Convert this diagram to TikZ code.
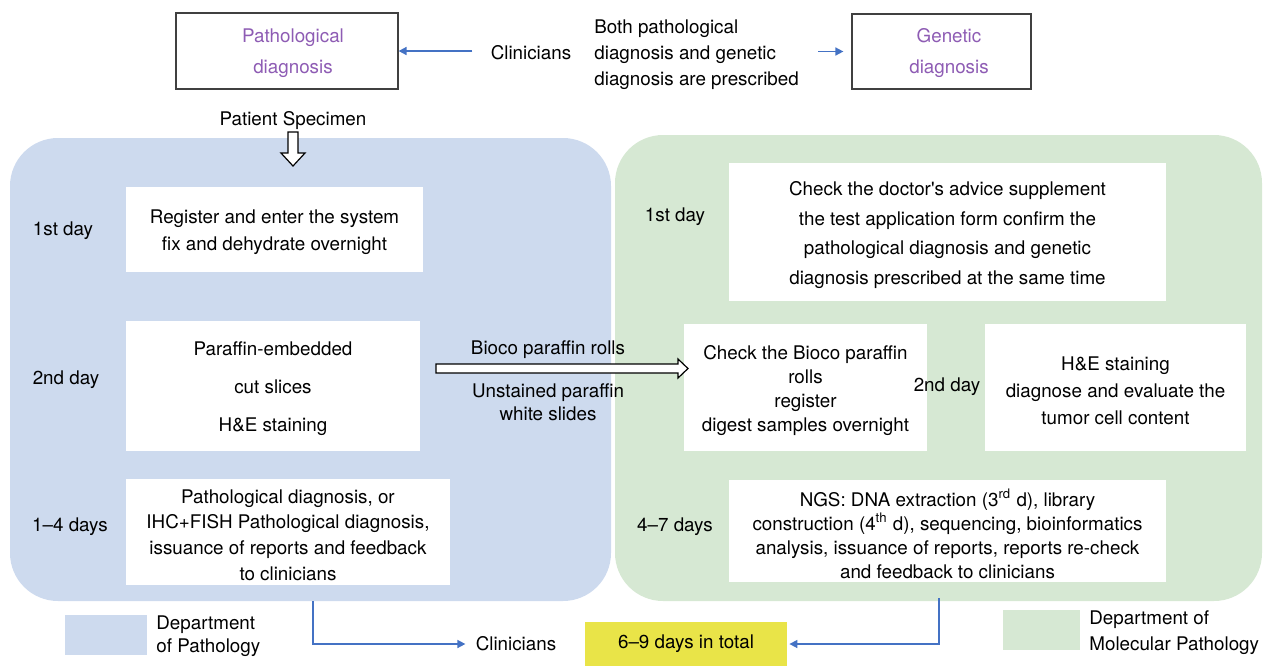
\documentclass[tikz,border=0pt]{standalone}
\usepackage{fontspec}
\setmainfont{TeX Gyre Heros}
\usetikzlibrary{arrows.meta,calc,fit}
\definecolor{panelblue}{RGB}{205,218,238}
\definecolor{panelgreen}{RGB}{214,232,211}
\definecolor{purpletext}{RGB}{142,92,180}
\definecolor{arrowblue}{RGB}{68,114,196}
\definecolor{totalyellow}{RGB}{233,228,72}
\begin{document}
\begin{tikzpicture}[x=0.5pt,y=-0.5pt,
  font=\fontsize{9.4}{13.5}\selectfont,
  wbox/.style={fill=white, inner sep=0pt, draw=none},
  topbox/.style={draw=black!75, line width=0.6pt, fill=white, inner sep=0pt},
  lbl/.style={inner sep=0pt, align=center, yshift=-1.5pt},
  lbll/.style={inner sep=0pt, align=left, yshift=-1.5pt},
  barrow/.style={draw=arrowblue, line width=0.8pt, -{Triangle[length=4pt,width=4pt]}},
  hollow/.style={draw=black, line width=0.6pt, fill=white, line join=miter},
  panel/.style={rounded corners=24pt, draw=none}]
\useasboundingbox (0,0) rectangle (1266,666);

% panels
\fill[panelblue, panel] (10,138) rectangle (611,601);
\fill[panelgreen, panel] (615,135) rectangle (1262,601);
\coordinate (pbot) at (313,601);
\coordinate (gbot) at (939,598);

% top boxes
\node[topbox, fit={(176,13) (398,89)}] (pathbox) {};
\node[lbl, text=purpletext, font=\fontsize{9.4}{15.5}\selectfont] at (293,50) {Pathological\\diagnosis};
\node[topbox, fit={(852,14) (1031,89)}] (genbox) {};
\node[lbl, text=purpletext, font=\fontsize{9.4}{15.5}\selectfont] at (949,50) {Genetic\\diagnosis};

\node[lbl] (clin1) at (531,50) {Clinicians};
\node[lbll, anchor=west, font=\fontsize{9.4}{13}\selectfont] (both) at (594,52) {Both pathological\\diagnosis and genetic\\diagnosis are prescribed};
\draw[barrow, shorten <=9pt] (clin1.west |- pathbox.east) -- (pathbox.east);
\draw[barrow, shorten <=9.5pt, shorten >=4pt] (both.east |- genbox.west) -- (genbox.west);

\node[lbl] (spec) at (293,118) {Patient Specimen};
% hollow down arrow
\draw[hollow] (288,132) -- (298,132) -- (298,153) -- (305,153) -- (293,166) -- (281,153) -- (288,153) -- cycle;

% left boxes
\node[wbox, fit={(126,187) (423,272)}] (l1) {};
\node[lbl] at (l1.center) {Register and enter the system\\fix and dehydrate overnight};
\node[wbox, fit={(126,321) (420,451)}] (l2) {};
\node[lbl, font=\fontsize{9.4}{19}\selectfont] at (l2.center) {Paraffin-embedded\\cut slices\\H\&E staining};
\node[wbox, fit={(126,479) (450,585)}] (l3) {};
\node[lbl, font=\fontsize{9.4}{12.85}\selectfont] at (l3.center) {Pathological diagnosis, or\\IHC+FISH Pathological diagnosis,\\issuance of reports and feedback\\to clinicians};

\node[lbl] (d1) at (63,228) {1st day};
\node[lbl] (d2) at (66,377) {2nd day};
\node[lbl] (d3) at (70,524) {1–4 days};

% right boxes
\node[wbox, fit={(729,163) (1166,301)}] (r1) {};
\node[lbl, font=\fontsize{9.4}{14.7}\selectfont] at (r1.center) {Check the doctor\textquotesingle s advice supplement\\the test application form confirm the\\pathological diagnosis and genetic\\diagnosis prescribed at the same time};
\node[wbox, fit={(684,324) (927,451)}] (r2) {};
\node[lbl, font=\fontsize{9.4}{12}\selectfont] at (r2.center) {Check the Bioco paraffin\\rolls\\register\\digest samples overnight};
\node[wbox, fit={(985,324) (1246,451)}] (r3) {};
\node[lbl] at (r3.center) {H\&E staining\\diagnose and evaluate the\\tumor cell content};
\node[wbox, fit={(729,480) (1166,582)}] (r4) {};
\node[lbl, font=\fontsize{9.4}{12}\selectfont] at (r4.center) {NGS: DNA extraction (3\textsuperscript{rd} d), library\\construction (4\textsuperscript{th} d), sequencing, bioinformatics\\analysis, issuance of reports, reports re-check\\and feedback to clinicians};

\node[lbl] (e1) at (675,214) {1st day};
\node[lbl] (e2) at (947,384) {2nd day};
\node[lbl] (e3) at (675,524) {4–7 days};

% middle hollow arrow
\draw[hollow] (436,364) -- (678,364) -- (678,359) -- (688,368.5) -- (678,378) -- (678,373) -- (436,373) -- cycle;
\node[lbl] (bioco) at (548,347) {Bioco paraffin rolls};
\node[lbl, font=\fontsize{9.4}{11.5}\selectfont] (unst) at (548,399) {Unstained paraffin\\white slides};

% bottom
\fill[panelblue] (65,615) rectangle (147,655);
\node[lbll, anchor=west, font=\fontsize{9.4}{11.5}\selectfont] (legb) at (156,633) {Department\\of Pathology};
\fill[panelgreen] (1003,610) rectangle (1080,650);
\node[lbll, anchor=west, font=\fontsize{9.4}{13}\selectfont] (legg) at (1089,630) {Department of\\Molecular Pathology};

\node[lbl] (clin2) at (516,641) {Clinicians};
\node[fill=totalyellow, minimum width=101pt, minimum height=22pt, inner sep=0pt] (total) at (686,644) {6–9 days in total};
\draw[barrow, shorten >=5pt] (pbot) |- (clin2.west);
\draw[barrow, shorten >=1pt] (gbot) |- (total.east);
\end{tikzpicture}
\end{document}
